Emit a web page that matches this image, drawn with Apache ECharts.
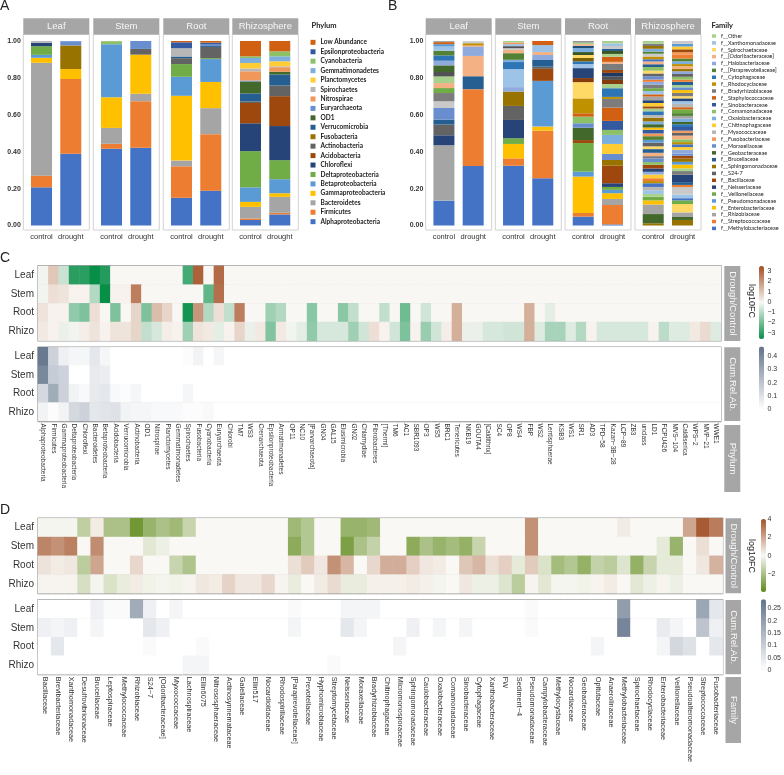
<!DOCTYPE html>
<html>
<head>
<meta charset="utf-8">
<title>Drought microbiome</title>
<script src="https://cdn.jsdelivr.net/npm/echarts@6.0.0/dist/echarts.min.js"></script>
<style>
  html, body { margin: 0; padding: 0; background: #fff; }
  #main { width: 784px; height: 775px; }
</style>
</head>
<body>
<div id="main"></div>
<script>
// ---------- A: phylum relative abundance, stacks listed bottom -> top
const facets = ['Leaf', 'Stem', 'Root', 'Rhizosphere'];
const conditions = ['control', 'drought'];
const phyla = ['Alphaproteobacteria', 'Firmicutes', 'Bacteroidetes', 'Gammaproteobacteria',
  'Betaproteobacteria', 'Deltaproteobacteria', 'Chloroflexi', 'Acidobacteria', 'Actinobacteria',
  'Fusobacteria', 'Verrucomicrobia', 'OD1', 'Euryarchaeota', 'Nitrospirae', 'Spirochaetes',
  'Planctomycetes', 'Gemmatimonadetes', 'Cyanobacteria', 'Epsilonproteobacteria', 'Low Abundance'];
const phylumLeafControl   = [0.207, 0.063, 0.612, 0.027, 0.016, 0.047, 0.018, 0, 0, 0, 0, 0, 0, 0, 0.010, 0, 0, 0, 0, 0];
const phylumLeafDrought   = [0.389, 0.405, 0, 0.054, 0, 0, 0, 0, 0, 0.128, 0, 0, 0.023, 0, 0, 0, 0, 0, 0, 0];
const phylumStemControl   = [0.416, 0.027, 0.086, 0.166, 0.288, 0, 0, 0, 0, 0, 0, 0, 0, 0, 0, 0, 0, 0.016, 0, 0];
const phylumStemDrought   = [0.422, 0.252, 0.040, 0.212, 0, 0, 0, 0, 0.031, 0, 0, 0, 0.043, 0, 0, 0, 0, 0, 0, 0];
const phylumRootControl   = [0.150, 0.171, 0.031, 0.351, 0.103, 0.069, 0, 0, 0.032, 0, 0.009, 0, 0, 0, 0.045, 0, 0, 0, 0.032, 0.007];
const phylumRootDrought   = [0.189, 0.306, 0.141, 0.142, 0.124, 0.005, 0, 0, 0.061, 0, 0.005, 0, 0.008, 0, 0, 0, 0, 0, 0.010, 0.009];
const phylumRhizoControl  = [0.030, 0.008, 0.063, 0.027, 0.079, 0.196, 0.151, 0.110, 0.009, 0, 0.043, 0.065, 0.005, 0.050, 0.015, 0.030, 0.027, 0.009, 0, 0.083];
const phylumRhizoDrought  = [0.060, 0.009, 0.086, 0.020, 0.076, 0.103, 0.185, 0.162, 0.058, 0, 0.059, 0.015, 0, 0.025, 0.005, 0.027, 0.027, 0.027, 0, 0.056];

// ---------- B: family relative abundance, [family index, share] bottom -> top
const familyNames = ['f__Methylobacteriaceae', 'f__Streptococcaceae', 'f__Rhizobiaceae', 'f__Enterobacteriaceae',
  'f__Pseudomonadaceae', 'f__Veillonellaceae', 'f__Neisseriaceae', 'f__Bacillaceae', 'f__S24-7',
  'f__Sphingomonadaceae', 'f__Brucellaceae', 'f__Geobacteraceae', 'f__Moraxellaceae', 'f__Fusobacteriaceae',
  'f__Myxococcaceae', 'f__Chitinophagaceae', 'f__Oxalobacteraceae', 'f__Comamonadaceae', 'f__Sinobacteraceae',
  'f__Staphylococcaceae', 'f__Bradyrhizobiaceae', 'f__Rhodocyclaceae', 'f__Cytophagaceae',
  'f__[Paraprevotellaceae]', 'f__Halobacteriaceae', 'f__[Odoribacteraceae]', 'f__Spirochaetaceae',
  'f__Xanthomonadaceae', 'f__Other'];
const familyLeafControl = [[0,0.135],[2,0.300],[6,0.054],[8,0.058],[10,0.027],[12,0.063],[29,0.036],[20,0.045],
  [5,0.027],[25,0.027],[28,0.036],[32,0.024],[11,0.036],[24,0.025],[22,0.029],[23,0.025],[27,0.023],[4,0.013],[19,0.011],[2,0.007]];
const familyLeafDrought = [[0,0.322],[1,0.417],[10,0.070],[25,0.110],[24,0.051],[13,0.007],[21,0.011],[29,0.011]];
const familyStemControl = [[0,0.324],[1,0.040],[3,0.078],[5,0.031],[6,0.099],[8,0.076],[9,0.078],[24,0.024],
  [27,0.098],[22,0.038],[16,0.012],[23,0.036],[25,0.018],[29,0.009],[32,0.011],[27,0.011],[13,0.009],[28,0.009]];
const familyStemDrought = [[0,0.256],[1,0.258],[3,0.022],[4,0.248],[7,0.065],[8,0.012],[10,0.036],[24,0.027],
  [25,0.016],[27,0.038],[19,0.022]];
const familyRootControl = [[0,0.048],[1,0.020],[3,0.197],[4,0.027],[5,0.155],[7,0.016],[11,0.067],[12,0.024],
  [17,0.036],[19,0.018],[21,0.081],[26,0.088],[31,0.022],[6,0.054],[27,0.022],[22,0.015],[33,0.018],[26,0.016],
  [35,0.016],[16,0.022],[34,0.012],[25,0.009],[28,0.009],[20,0.007]];
const familyRootDrought = [[0,0.006],[1,0.105],[2,0.033],[3,0.031],[4,0.018],[5,0.016],[6,0.020],[7,0.095],
  [9,0.031],[12,0.033],[15,0.054],[16,0.049],[17,0.027],[18,0.049],[19,0.072],[20,0.047],[21,0.011],[22,0.047],
  [28,0.023],[31,0.022],[32,0.018],[30,0.020],[7,0.016],[20,0.033],[25,0.011],[19,0.027],[28,0.016],[35,0.016],
  [10,0.012],[29,0.015],[27,0.014],[28,0.014]];
const familyRhizoControl = [[9,0.012],[11,0.050],[2,0.052],[3,0.022],[5,0.020],[28,0.015],[27,0.020],[14,0.018],
  [0,0.020],[21,0.012],[1,0.015],[15,0.020],[24,0.015],[6,0.018],[7,0.020],[17,0.015],[12,0.020],[20,0.012],
  [25,0.018],[10,0.020],[26,0.015],[8,0.020],[4,0.015],[23,0.020],[13,0.015],[18,0.020],[3,0.012],[11,0.018],
  [16,0.015],[9,0.020],[14,0.015],[22,0.020],[28,0.015],[7,0.012],[15,0.018],[6,0.015],[2,0.020],[19,0.012],
  [27,0.018],[5,0.015],[20,0.020],[24,0.015],[1,0.012],[12,0.018],[8,0.015],[26,0.015],[17,0.020],[10,0.015],
  [25,0.015],[0,0.012],[21,0.015],[29,0.015],[23,0.012],[16,0.015],[9,0.015],[20,0.012],[28,0.015]];
const familyRhizoDrought = [[9,0.030],[11,0.016],[2,0.025],[26,0.045],[5,0.020],[0,0.012],[27,0.020],[29,0.040],
  [1,0.012],[10,0.015],[6,0.040],[20,0.020],[28,0.015],[3,0.020],[4,0.015],[9,0.018],[7,0.015],[12,0.012],
  [24,0.020],[15,0.015],[0,0.015],[21,0.012],[17,0.015],[25,0.020],[8,0.015],[13,0.012],[18,0.020],[22,0.015],
  [11,0.012],[16,0.018],[2,0.015],[23,0.015],[5,0.020],[19,0.012],[14,0.018],[27,0.015],[6,0.015],[26,0.012],
  [20,0.018],[3,0.015],[12,0.015],[28,0.012],[10,0.018],[1,0.012],[17,0.015],[8,0.015],[24,0.015],[9,0.012],
  [25,0.015],[21,0.012],[16,0.015],[23,0.015],[1,0.020],[13,0.015],[7,0.015],[15,0.015],[4,0.015],[29,0.015]];

// ---------- C: phylum log10 fold change (drought/control) and cumulative relative abundance
const heatRows = ['Leaf', 'Stem', 'Root', 'Rhizo'];
const phylumHeat = ['Alphaproteobacteria', 'Firmicutes', 'Gammaproteobacteria', 'Deltaproteobacteria', 'Chloroflexi',
  'Bacteroidetes', 'Betaproteobacteria', 'Acidobacteria', 'Verrucomicrobia', 'Actinobacteria', 'OD1', 'Nitrospirae',
  'Planctomycetes', 'Gemmatimonadetes', 'Spirochaetes', 'Fusobacteria', 'Cyanobacteria', 'Euryarchaeota', 'Chlorobi',
  'TM7', 'WS3', 'Crenarchaeota', 'Epsilonproteobacteria', 'Armatimonadetes', 'OP11', 'NC10', '[Parvarchaeota]',
  'GN04', 'GAL15', 'Elusimicrobia', 'GN02', 'Chlamydiae', 'Fibrobacteres', '[Thermi]', 'TM6', 'AC1', 'SBR1093',
  'OP3', 'WS5', 'BRC1', 'Tenericutes', 'NKB19', 'GOUTA4', '[Caldithrix]', 'SC4', 'OP8', 'WS4', 'FBP', 'WS2',
  'Lentisphaerae', 'KSB3', 'WS1', 'SR1', 'AD3', 'TPD−58', 'Kazan−3B−28', 'LCP−89', 'ZB3', 'unclass', 'LD1',
  'FCPU426', 'MVS−104', 'Caldiserica', 'WPS−2', 'MVP−21', 'WWE1'];
const phylumFcLeaf = [-0.1, 1.0, -0.7, -3.0, -3.0, -3.5, -3.1, 0, 0, 0,
  0, 0, 0, 0, -2.6, 3.1, 0, 2.9, 0, 0,
  0, 0, 0, 0, 0, 0, 0, 0, 0, 0,
  0, 0, 0, 0, 0, 0, 0, 0, 0, 0,
  0, 0, 0, 0, 0, 0, 0, 0, 0, 0,
  0, 0, 0, 0, 0, 0, 0, 0, 0, 0,
  0, 0, 0, 0, 0, 0];
const phylumFcStem = [-0.1, 0.5, 0.4, 0.1, 0.1, -1.0, -3.5, 0.1, 0.1, 2.5,
  0, 0, 0, 0, 0, 0, -2.2, 2.8, 0, 0,
  0, 0, 0, 0, 0, 0, 0, 0, 0, 0,
  0, 0, 0, 0, 0, 0, 0, 0, 0, 0,
  0, 0, 0, 0, 0, 0, 0, 0, 0, 0,
  0, 0, 0, 0, 0, 0, 0, 0, 0, 0,
  0, 0, 0, 0, 0, 0];
const phylumFcRoot = [0.4, 0.1, 0.1, -1.5, -1.8, 0.5, 0, -1.8, 0, 0.7,
  -1.8, 1.2, 0.7, 0, -3.3, 2.0, -1.0, 0.5, -0.8, 2.5,
  0, 0, -1.3, -1.0, 0, 0, -1.6, 0, 0, -1.6,
  -0.8, 0, 0, -0.8, 0, -2.0, 0, -0.6, 0, 0,
  1.5, 0, 0, 0, 0, 0, 0, 1.5, 0, -0.3,
  0, 0, 0, 0, 0, 0, 0, 0, 0, 0,
  0, 0, 0, 0, 0, 0];
const phylumFcRhizo = [0.3, 0.1, -0.2, -0.1, 0.2, 0.4, 0.1, 0.4, 0.4, 0.7,
  -0.8, -0.5, 0.2, 0.1, -1.3, 0.4, 0.3, -0.3, 0.1, 0.7,
  -0.2, 0.3, -1.7, 0.3, -0.1, -0.3, -1.5, -0.5, -0.5, -0.5,
  -1.3, -0.6, 0.5, 0.1, -0.6, -1.8, 0.1, -1.4, -0.6, 0.2,
  1.5, -0.2, -0.2, -0.5, -0.5, -0.6, -0.6, 1.5, -0.4, -1.2,
  -1.2, -0.4, -1.0, 0.1, -0.5, -0.5, -0.5, -0.5, -0.5, 0.1,
  -0.9, -0.4, -0.4, 0.3, 0.6, -0.4];
const phylumCumLeaf = [0.45, 0.15, 0.05, 0.03, 0.03, 0.08, 0.03, 0, 0, 0,
  0, 0, 0, 0, 0.01, 0.04, 0, 0.03, 0, 0,
  0, 0, 0, 0, 0, 0, 0, 0, 0, 0,
  0, 0, 0, 0, 0, 0, 0, 0, 0, 0,
  0, 0, 0, 0, 0, 0, 0, 0, 0, 0,
  0, 0, 0, 0, 0, 0, 0, 0, 0, 0,
  0, 0, 0, 0, 0, 0];
const phylumCumStem = [0.40, 0.17, 0.15, 0, 0, 0.07, 0.06, 0, 0, 0,
  0, 0, 0, 0, 0, 0, 0, 0, 0, 0,
  0, 0, 0, 0, 0, 0, 0, 0, 0, 0,
  0, 0, 0, 0, 0, 0, 0, 0, 0, 0,
  0, 0, 0, 0, 0, 0, 0, 0, 0, 0,
  0, 0, 0, 0, 0, 0, 0, 0, 0, 0,
  0, 0, 0, 0, 0, 0];
const phylumCumRoot = [0.13, 0.28, 0.15, 0.04, 0.02, 0.07, 0.08, 0.02, 0.01, 0.03,
  0, 0, 0, 0, 0.03, 0, 0, 0, 0, 0,
  0, 0, 0, 0, 0, 0, 0, 0, 0, 0,
  0, 0, 0, 0, 0, 0, 0, 0, 0, 0,
  0, 0, 0, 0, 0, 0, 0, 0, 0, 0,
  0, 0, 0, 0, 0, 0, 0, 0, 0, 0,
  0, 0, 0, 0, 0, 0];
const phylumCumRhizo = [0.04, 0.01, 0.04, 0.13, 0.15, 0.08, 0.09, 0.10, 0.04, 0.03,
  0.03, 0.02, 0.02, 0.02, 0.01, 0.01, 0.02, 0, 0, 0,
  0, 0, 0, 0, 0, 0, 0, 0, 0, 0,
  0, 0, 0, 0, 0, 0, 0, 0, 0, 0,
  0, 0, 0, 0, 0, 0, 0, 0, 0, 0,
  0, 0, 0, 0, 0, 0, 0, 0, 0, 0,
  0, 0, 0, 0, 0, 0];

// ---------- D: family log10 fold change and cumulative relative abundance
const familyHeat = ['Bacillaceae', 'Brevibacteriaceae', 'Xanthomonadaceae', 'Desulfovibrionaceae', 'Brucellaceae',
  'Leptospiraceae', 'Methylococcaceae', 'Rhizobiaceae', 'S24−7', '[Odoribacteraceae]', 'Myxococcaceae',
  'Lachnospiraceae', 'Ellin6075', 'Nitrososphaeraceae', 'Actinosynnemataceae', 'Gaiellaceae', 'Ellin517',
  'Nocardioidaceae', 'Rhodospirillaceae', '[Paraprevotellaceae]', 'Prevotellaceae', 'Hyphomicrobiaceae',
  'Streptomycetaceae', 'Neisseriaceae', 'Moraxellaceae', 'Bradyrhizobiaceae', 'Chitinophagaceae',
  'Micromonosporaceae', 'Sphingomonadaceae', 'Caulobacteraceae', 'Oxalobacteraceae', 'Comamonadaceae',
  'Sinobacteraceae', 'Cytophagaceae', 'Xanthobacteraceae', 'FW', 'Sediment−4', 'Pseudomonadaceae',
  'Campylobacteraceae', 'Methylocystaceae', 'Nocardiaceae', 'Geobacteraceae', 'Opitutaceae', 'Anaerolinaceae',
  'Methylobacteriaceae', 'Spirochaetaceae', 'Rhodocyclaceae', 'Enterobacteriaceae', 'Veillonellaceae',
  'Pseudoalteromonadaceae', 'Streptococcaceae', 'Fusobacteriaceae'];
const familyFcLeaf = [-0.1, -0.1, -0.1, -1.5, 0.3, -2.0, -2.0, -3.5, -2.5, -2.0,
  -2.3, -1.3, 0, 0, 0, 0, 0, 0, 0, -2.3,
  -1.8, 0, 0, -2.5, -2.5, -2.3, 0, 0, 0, 0,
  0, 0, 0, 0, 0, 0, 0, 2.5, 0, 0,
  0, 0, 0, 0, 0.3, 0, 0, 0, 0, 2.0,
  3.8, 3.0];
const familyFcStem = [2.8, 2.5, 2.9, 0, 2.6, 0, 0, 0, -0.6, -0.3,
  0, 0, 0, 0, 0, 0, 0, 0, 0, -2.8,
  -1.8, 0, 0, -3.2, -2.0, -1.4, 0, 0, -2.8, -2.0,
  -2.5, -2.2, -2.6, -1.3, 0, 0, 0, 2.5, 0, 0,
  0, 0, 0, 0, 0, 0, 0, -0.5, -2.5, 0,
  0.6, 0];
const familyFcRoot = [0.5, 0.3, 0.4, -1.6, 2.0, 0, 0, 0.8, 0, 0,
  -1.3, -1.9, 0, 0, 0, 0, 0, 0, 0, 0.6,
  1.1, 0.4, 2.5, 1.6, 0, 0.8, 1.8, 1.8, 1.0, 0.4,
  0.3, 0, 1.2, 1.6, 0.6, 1.0, -0.5, 1.1, -0.8, -2.2,
  -1.8, -2.6, -1.4, -1.6, -0.7, -2.6, -1.3, -0.5, -0.5, 0,
  0.4, 1.7];
const familyFcRhizo = [0.1, 0.1, 0.1, -0.9, -0.1, -0.8, -0.4, 0.3, -0.2, -0.1,
  -0.2, 0.1, 0.4, 0.3, 0.9, 0.4, 0.4, 0.8, 0.1, -0.4,
  0, 0.3, 0.7, -0.4, -0.4, 0.2, 0.2, 0.2, 0.3, 0.2,
  -0.1, 0, 0.4, -0.3, -0.3, -0.7, -1.6, 0.1, -0.6, -0.1,
  -0.1, -0.2, 0.1, 0.3, 0, -0.6, -0.3, 0.1, -0.3, 0,
  0, 0];
const familyCumLeaf = [0, 0, 0, 0, 0.03, 0.01, 0.01, 0.17, 0.03, 0,
  0.02, 0, 0, 0, 0, 0, 0, 0, 0, 0.01,
  0, 0, 0, 0.02, 0.02, 0.02, 0, 0, 0, 0,
  0, 0, 0, 0, 0, 0, 0, 0.01, 0, 0,
  0, 0, 0, 0, 0.20, 0, 0, 0, 0, 0,
  0.18, 0.05];
const familyCumStem = [0.03, 0.02, 0.03, 0, 0.02, 0, 0, 0, 0.05, 0.03,
  0, 0, 0, 0, 0, 0, 0, 0, 0, 0.02,
  0, 0, 0, 0.05, 0.02, 0, 0, 0, 0.03, 0,
  0.02, 0, 0.02, 0, 0, 0, 0, 0.01, 0, 0,
  0, 0, 0, 0, 0.25, 0, 0, 0.04, 0.02, 0,
  0.12, 0.03];
const familyCumRoot = [0, 0.05, 0, 0, 0, 0, 0, 0, 0.01, 0,
  0, 0, 0.01, 0, 0, 0, 0, 0, 0, 0,
  0, 0, 0, 0, 0, 0, 0, 0.02, 0, 0,
  0, 0, 0, 0, 0, 0, 0, 0, 0, 0,
  0, 0, 0.02, 0, 0, 0, 0, 0.02, 0.08, 0.06,
  0, 0.05];
const familyCumRhizo = [0, 0, 0, 0, 0, 0, 0, 0, 0, 0,
  0, 0.02, 0.02, 0, 0, 0, 0, 0, 0, 0,
  0, 0, 0.01, 0, 0, 0, 0, 0, 0, 0,
  0, 0, 0, 0, 0, 0, 0, 0, 0, 0,
  0, 0, 0, 0, 0, 0, 0, 0, 0, 0,
  0, 0];

// ---------- styling
const palette = ['#4472C4', '#ED7D31', '#A5A5A5', '#FFC000', '#5B9BD5', '#70AD47',
  '#264478', '#9E480E', '#636363', '#997300', '#255E91', '#43682B',
  '#698ED0', '#F1975A', '#B7B7B7', '#FFCD33', '#7CAFDD', '#8CC168',
  '#335AA1', '#D26012', '#7C7C7C', '#BF9000', '#2E75B6', '#548235',
  '#8FAADC', '#F4B183', '#FFD966', '#9DC3E6', '#A9D18E', '#C9C9C9',
  '#203864', '#843C0C', '#525252', '#7F6000', '#1F4E79', '#385723'];
const SANS = 'Liberation Sans';
const stripGrey = '#A6A6A6';
const boxGrey = '#8C8C8C';

const phylumStacks = [
  [phylumLeafControl, phylumLeafDrought], [phylumStemControl, phylumStemDrought],
  [phylumRootControl, phylumRootDrought], [phylumRhizoControl, phylumRhizoDrought]];
const familyStacks = [
  [familyLeafControl, familyLeafDrought], [familyStemControl, familyStemDrought],
  [familyRootControl, familyRootDrought], [familyRhizoControl, familyRhizoDrought]];

const aFacetLeft = [23.3, 93.3, 163.3, 232.3];
const bFacetLeft = [425.7, 495.3, 565, 635];

const grid = [], xAxis = [], yAxis = [], series = [], visualMap = [], graphic = [];

function text(x, y, str, size, extra) {
  const e = Object.assign({ type: 'text', x: x, y: y, silent: true, z: 10,
    style: { text: str, fontSize: size, fontFamily: SANS, fill: '#222', textAlign: 'left', textVerticalAlign: 'top' } }, extra || {});
  if (extra && extra.style) e.style = Object.assign({ text: str, fontSize: size, fontFamily: SANS, fill: '#222' }, extra.style);
  graphic.push(e);
}
function rect(x, y, w, h, style) {
  graphic.push({ type: 'rect', silent: true, z: 0, shape: { x: x, y: y, width: w, height: h }, style: style });
}
function strip(x, y, w, h, label, vertical) {
  rect(x, y, w, h, { fill: stripGrey });
  graphic.push({ type: 'text', silent: true, z: 10, x: x + w / 2, y: y + h / 2, rotation: vertical ? -Math.PI / 2 : 0,
    style: { text: label, fontSize: 9.5, fontFamily: SANS, fill: '#F7F7F7', textAlign: 'center', textVerticalAlign: 'middle' } });
}

// ---------- bar panels (A and B)
function barPanel(facetLeft, stacks, isFamily) {
  facetLeft.forEach(function (left, i) {
    const gi = grid.length;
    grid.push({ left: left + 3.6, top: 41, width: 58.5, height: 184.5 });
    xAxis.push({ gridIndex: gi, type: 'category', data: conditions,
      axisLine: { show: false }, axisTick: { show: false },
      axisLabel: { interval: 0, fontSize: 7.5, color: '#333', margin: 7, fontFamily: SANS } });
    yAxis.push({ gridIndex: gi, type: 'value', min: 0, max: 1, interval: 0.2,
      splitLine: { show: false }, axisLine: { show: false }, axisTick: { show: false },
      axisLabel: { show: i === 0, fontSize: 7, fontWeight: 'bold', color: '#333', margin: 6, fontFamily: SANS,
        formatter: function (v) { return v.toFixed(2); } } });
    rect(left, 34.5, 66, 195.5, { fill: 'none', stroke: '#D2D2D2', lineWidth: 1 });
    strip(left, 18.3, 66, 16.2, facets[i], false);
    if (!isFamily) {
      phyla.forEach(function (name, p) {
        series.push({ type: 'bar', name: name, xAxisIndex: gi, yAxisIndex: gi, stack: 'a' + i, barWidth: 21,
          itemStyle: { color: palette[p] }, emphasis: { disabled: true },
          data: [stacks[i][0][p], stacks[i][1][p]] });
      });
    } else {
      const n = Math.max(stacks[i][0].length, stacks[i][1].length);
      for (let j = 0; j < n; j++) {
        series.push({ type: 'bar', xAxisIndex: gi, yAxisIndex: gi, stack: 'b' + i, barWidth: 21,
          emphasis: { disabled: true },
          data: [0, 1].map(function (c) {
            const s = stacks[i][c][j];
            return s ? { value: s[1], itemStyle: { color: palette[s[0]] } } : '-';
          }) });
      }
    }
  });
}
barPanel(aFacetLeft, phylumStacks, false);
barPanel(bFacetLeft, familyStacks, true);

// empty series that only feed the family legend
familyNames.forEach(function (name, f) {
  series.push({ type: 'line', name: name, xAxisIndex: 4, yAxisIndex: 4, data: [],
    itemStyle: { color: palette[f] }, lineStyle: { color: palette[f] } });
});

// ---------- heatmap panels (C and D)
function heatPanel(names, rows, top, height, width, showLabels, labelSize, vm) {
  const gi = grid.length;
  grid.push({ left: 38, top: top, width: width, height: height, show: true,
    borderColor: boxGrey, borderWidth: 1.3, backgroundColor: 'transparent' });
  xAxis.push({ gridIndex: gi, type: 'category', data: names, position: 'bottom',
    axisLine: { show: false }, axisTick: { show: false },
    axisLabel: { show: showLabels, interval: 0, rotate: -90, fontSize: labelSize, color: '#333', margin: 2.5, fontFamily: SANS } });
  yAxis.push({ gridIndex: gi, type: 'category', data: heatRows, inverse: true,
    axisLine: { show: false }, axisTick: { show: false },
    splitLine: { show: true, lineStyle: { color: boxGrey, width: 1.3 } },
    axisLabel: { fontSize: 10, color: '#333', margin: 4, fontFamily: SANS } });
  const data = [];
  rows.forEach(function (vals, r) {
    vals.forEach(function (v, c) { data.push([c, r, v]); });
  });
  const si = series.length;
  series.push({ type: 'heatmap', xAxisIndex: gi, yAxisIndex: gi, data: data, z: 1,
    emphasis: { disabled: true }, itemStyle: { borderWidth: 0 } });
  visualMap.push(Object.assign({ type: 'continuous', seriesIndex: si, dimension: 2, calculable: false,
    orient: 'vertical', padding: 0, itemWidth: 5, hoverLink: false }, vm));
}
function scaleAxis(top, height, min, max, interval, hideMin) {
  const gi = grid.length;
  grid.push({ left: 760, top: top, width: 5, height: height });
  xAxis.push({ gridIndex: gi, type: 'value', show: false });
  yAxis.push({ gridIndex: gi, type: 'value', position: 'right', min: min, max: max, interval: interval,
    axisLine: { show: false }, axisTick: { show: false }, splitLine: { show: false },
    axisLabel: { fontSize: 7, color: '#333', margin: 2.5, fontFamily: SANS,
      formatter: function (v) { return (hideMin && v === min) ? '' : String(v).replace('-', '\u2212'); } } });
}

const fcGreenBrown = ['#078F48', '#F9F7F4', '#A34E22'];
const fcOliveBrown = ['#5E8A1A', '#F9F8F4', '#A3532B'];
const cumGrey = ['#FFFFFF', '#62738A'];

heatPanel(phylumHeat, [phylumFcLeaf, phylumFcStem, phylumFcRoot, phylumFcRhizo], 266, 74.7, 683, false, 6.5,
  { min: -3.5, max: 3.5, left: 759, top: 266, itemHeight: 73, inRange: { color: fcGreenBrown } });
heatPanel(phylumHeat, [phylumCumLeaf, phylumCumStem, phylumCumRoot, phylumCumRhizo], 347.3, 73.7, 683, true, 6.5,
  { min: 0, max: 0.47, left: 759, top: 346.5, itemHeight: 62.8, inRange: { color: cumGrey } });
heatPanel(familyHeat, [familyFcLeaf, familyFcStem, familyFcRoot, familyFcRhizo], 518.3, 75, 684.7, false, 7.3,
  { min: -4, max: 4, left: 761, top: 519, itemHeight: 73, inRange: { color: fcOliveBrown } });
heatPanel(familyHeat, [familyCumLeaf, familyCumStem, familyCumRoot, familyCumRhizo], 600, 74.3, 684.7, true, 7.3,
  { min: 0, max: 0.286, left: 761, top: 599.3, itemHeight: 70.7, inRange: { color: cumGrey } });

scaleAxis(271, 61.7, -3, 3, 1, false);
scaleAxis(356, 53.3, 0, 0.4, 0.1, false);
scaleAxis(519, 73.8, -4, 4, 2, true);
scaleAxis(608.3, 61.7, 0, 0.25, 0.05, false);

// facet strips on the right of the heatmaps
strip(724.3, 266, 16, 75, 'Drough/Control', true);
strip(724.3, 347.3, 16, 73.7, 'Cum.Rel.Ab.', true);
strip(724.3, 425, 16, 67, 'Phylum', true);
strip(725.5, 518.3, 15.5, 75, 'Drough/Control', true);
strip(725.5, 600, 15.5, 74.3, 'Cum.Rel.Ab.', true);
strip(725.5, 677, 15.5, 66, 'Family', true);

graphic.push({ type: 'text', silent: true, x: 751.5, y: 301, rotation: -Math.PI / 2,
  style: { text: 'log10FC', fontSize: 9, fontFamily: SANS, fill: '#222', textAlign: 'center', textVerticalAlign: 'middle' } });
graphic.push({ type: 'text', silent: true, x: 751.5, y: 556, rotation: -Math.PI / 2,
  style: { text: 'log10FC', fontSize: 9, fontFamily: SANS, fill: '#222', textAlign: 'center', textVerticalAlign: 'middle' } });

// panel letters and legend titles
text(0, -1, 'A', 14);
text(388, -1, 'B', 14);
text(0, 251, 'C', 14);
text(0, 503, 'D', 14);
text(311.5, 22, 'Phylum', 7.5, { style: { text: 'Phylum', fontSize: 7.5, fontWeight: 'bold', fontFamily: 'Lato', fill: '#222', textVerticalAlign: 'top' } });
text(711.5, 22, 'Family', 7.5, { style: { text: 'Family', fontSize: 7.5, fontWeight: 'bold', fontFamily: 'Lato', fill: '#222', textVerticalAlign: 'top' } });

const option = {
  animation: false,
  backgroundColor: '#fff',
  textStyle: { fontFamily: SANS },
  grid: grid, xAxis: xAxis, yAxis: yAxis, series: series, visualMap: visualMap, graphic: graphic,
  legend: [
    { data: phyla.slice().reverse(), orient: 'vertical', left: 310.5, top: 37.6, icon: 'rect',
      itemWidth: 5, itemHeight: 5, itemGap: 0, selectedMode: false, padding: 0,
      textStyle: { fontSize: 6.5, lineHeight: 9.44, color: '#222', fontFamily: 'Lato', fontWeight: 'bold' } },
    { data: familyNames.slice().reverse(), orient: 'vertical', left: 712, top: 32.6, icon: 'rect',
      itemWidth: 4, itemHeight: 3.5, itemGap: 0, selectedMode: false, padding: 0,
      textStyle: { fontSize: 5.5, lineHeight: 6.87, color: '#222', fontFamily: 'Lato' } }
  ]
};

const chart = echarts.init(document.getElementById('main'));
chart.setOption(option);
</script>
</body>
</html>
